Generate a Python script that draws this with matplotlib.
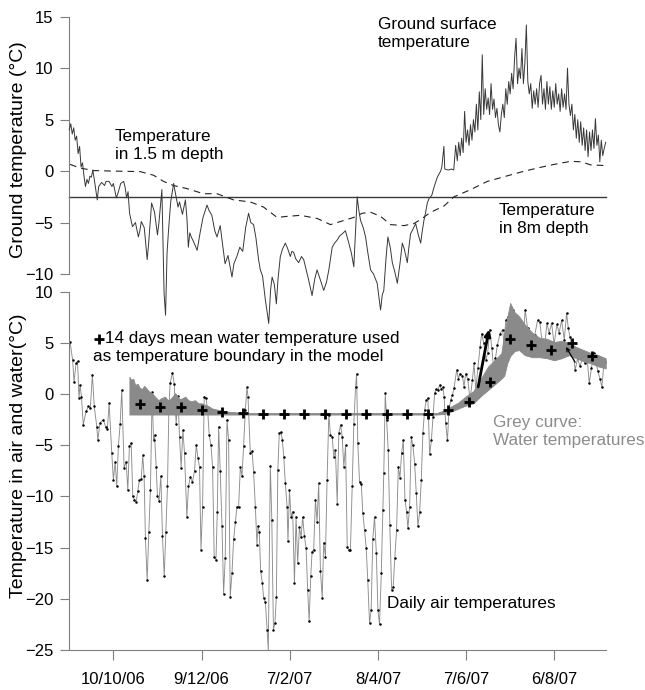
import numpy as np
import matplotlib
matplotlib.use('Agg')
import matplotlib.pyplot as plt
import matplotlib.dates as mdates
from datetime import datetime

plt.rcParams['font.family'] = ['Liberation Sans', 'DejaVu Sans']

START = datetime(2006, 9, 10)
END = datetime(2007, 9, 10)

tick_dates = [datetime(2006, 10, 10), datetime(2006, 12, 9), datetime(2007, 2, 7),
              datetime(2007, 4, 8), datetime(2007, 6, 7), datetime(2007, 8, 6)]
tick_labels = ['10/10/06', '9/12/06', '7/2/07', '8/4/07', '7/6/07', '6/8/07']

# (days since 10 Sep 2006, degC)
ground_surface = [
    (0, 4.0), (1, 4.6), (2, 3.6), (3, 4.2), (4, 3.0), (5, 3.4), (6, 1.7), (7, 2.4), (8, 0.4), (9, 0.8),
    (10, -0.5), (11, -1.5), (12, -0.8), (13, -1.2), (14, -0.5), (15, -0.6), (16, 0.1), (17, -0.8),
    (19, -2.8), (20, -1.5), (22, -1.1), (24, -1.4), (25, -1.0), (27, -1.0), (29, -1.5), (30, -1.2),
    (32, -2.6), (33, -2.2), (35, -1.2), (37, -1.0), (38, -1.6), (39, -2.6), (40, -2.0), (41, -4.1),
    (43, -5.4), (45, -5.0), (47, -6.4), (48, -5.8), (49, -4.9), (51, -5.5), (53, -8.6), (54, -7.0),
    (56, -3.1), (58, -4.0), (60, -6.2), (61, -5.0), (63, -1.8), (64.5, -11.9), (65.5, -14.0),
    (66.5, -8.0), (67.5, -5.8), (69, -3.0), (71, -1.2), (72, -2.0), (74, -3.5), (75, -3.0), (77, -4.2),
    (79, -2.8), (80, -4.5), (81, -7.4), (82, -6.0), (83, -6.4), (85, -7.0), (87, -7.7), (89, -6.0),
    (91, -4.5), (93.7, -3.3), (95, -3.8), (97, -4.3), (99, -5.8), (100.5, -6.4), (102.7, -5.3),
    (104, -6.8), (106, -9.0), (108, -8.2), (110.7, -10.3), (112, -9.0), (114, -8.3), (116, -7.4),
    (118, -7.8), (120, -5.5), (122, -4.1), (123.5, -5.0), (125.4, -5.2), (127, -6.5), (128.8, -8.6),
    (130, -9.6), (131.5, -10.2), (133.4, -12.5), (135.7, -14.8), (137, -11.5), (138, -10.3),
    (139.5, -11.0), (140.9, -12.9), (142, -10.5), (143.6, -8.3), (145, -7.6), (147, -7.0),
    (148.5, -7.5), (150.4, -8.3), (151.5, -7.8), (152.7, -7.9), (154, -8.5), (156.1, -8.9),
    (158, -8.3), (159.5, -8.6), (161, -9.5), (162.9, -10.6), (165.2, -12.1), (167, -10.5),
    (168.6, -9.6), (170, -10.2), (170.9, -10.6), (173.1, -11.6), (175, -10.8), (176.6, -9.6),
    (178.9, -7.4), (180.5, -7.0), (182.3, -6.7), (184, -6.3), (185.7, -6.1), (187.9, -5.8),
    (190.2, -7.0), (192, -8.0), (193.6, -9.3), (195.9, -2.5), (197, -3.8), (198.2, -4.8),
    (200, -5.5), (201.6, -6.4), (203, -7.8), (205, -9.6), (207, -10.0), (209.5, -10.9),
    (211.8, -13.5), (213, -12.0), (214, -11.6), (215.5, -8.5), (216.8, -6.4), (218.5, -7.5),
    (219.8, -8.9), (221.5, -9.8), (223.2, -10.9), (225, -9.0), (226.6, -7.0), (228, -7.6),
    (230, -8.9), (231, -7.5), (232.2, -6.1), (234, -5.6), (235.7, -5.1), (237.5, -6.2),
    (239.1, -7.0), (240, -6.0), (241.3, -4.8), (242.5, -4.0), (243.6, -3.1), (245, -2.6),
    (245.9, -2.5), (246.8, -2.3), (247.7, -1.8), (249, -1.2), (250.4, -0.6), (251.5, -0.3),
    (252.7, 0.0), (253.5, 0.4), (254.9, 2.4), (255.5, 0.2), (258, 0.1), (260, 0.2), (261.6, 0.1),
    (262.9, 2.5), (264, 1.0), (265, 2.8), (266, 1.5), (267, 3.2), (268, 1.8), (269, 5.8), (270, 2.8),
    (271, 4.0), (272, 2.5), (273, 4.5), (274, 3.0), (275, 5.0), (276, 3.8), (277, 6.5), (278, 4.0),
    (279, 7.7), (280, 5.0), (281, 11.3), (282, 5.5), (283, 8.0), (284, 6.0), (285, 7.1), (286, 5.5),
    (287, 8.5), (288, 6.0), (289, 7.0), (290, 5.2), (291, 6.1), (292, 4.5), (293, 3.8), (294, 5.5),
    (295, 6.5), (296, 5.2), (297, 8.0), (298, 6.5), (299, 8.7), (300, 7.5), (301, 9.5), (302, 8.0),
    (303, 11.0), (304, 12.9), (305, 8.5), (306, 10.0), (307, 9.0), (308, 11.9), (309, 8.5),
    (310, 10.5), (311, 14.2), (312, 8.7), (313, 7.5), (314, 8.5), (315, 6.1), (316, 7.8), (317, 6.5),
    (318, 8.0), (319, 6.2), (320, 8.5), (321, 9.3), (322, 6.5), (323, 8.0), (324, 6.0), (325, 8.7),
    (326, 6.5), (327, 8.2), (328, 6.0), (329, 7.8), (330, 6.2), (331, 8.5), (332, 6.5), (333, 7.5),
    (334, 5.8), (335, 8.0), (336, 6.2), (337, 7.5), (338, 6.0), (339, 10.0), (340, 6.5), (341, 5.4),
    (342, 6.5), (343, 4.0), (344, 5.5), (345, 3.2), (346, 5.0), (347, 2.8), (348, 4.8), (349, 2.5),
    (350, 4.2), (351, 2.0), (352, 4.0), (353, 1.4), (354, 3.8), (355, 2.0), (356, 4.0), (357, 2.2),
    (358, 5.1), (359, 2.5), (360, 3.5), (361, 0.9), (362, 3.0), (363, 1.5), (364, 2.2), (365, 2.8),
]

depth_1_5m = [
    (0.5, 0.65), (7.3, 0.3), (16.4, 0.05), (30, 0.0), (48.2, -0.05), (57.3, -0.4), (64.1, -1.0),
    (70.9, -1.4), (80, -1.7), (91.3, -2.2), (100.5, -2.2), (111.8, -2.8), (123.2, -3.0),
    (132.2, -3.5), (141.4, -4.5), (148.2, -4.4), (157.3, -4.3), (168.6, -4.6), (177.7, -5.2),
    (186.8, -4.8), (193.6, -4.5), (199.3, -4.1), (205, -4.0), (211.8, -4.4), (218.6, -5.2),
    (227.7, -5.3), (234.5, -5.1), (239.1, -4.7), (245.9, -4.0), (254.9, -3.4), (261.8, -2.5),
    (273.1, -1.8), (284.5, -1.0), (295.8, -0.55), (307.2, -0.1), (318.6, 0.3), (329.9, 0.65),
    (341.3, 0.95), (348.1, 0.9), (354.9, 0.6), (362.9, 0.55), (365, 0.55),
]

depth_8m = [(0, -2.5), (120, -2.5), (240, -2.5), (365, -2.5)]

air_temp = [
    (0.5, 5.1), (2.3, 3.3), (3.2, 1.2), (4.6, 3.0), (5.6, 3.2), (6.6, -0.4), (7.3, 0.9), (8.3, -0.3),
    (9.5, -3.0), (11.4, -1.7), (13.0, -1.2), (14.3, -1.4), (15.7, 1.9), (17.0, -1.2), (18.7, -3.2),
    (19.4, -4.5), (20.9, -2.8), (23.2, -2.5), (24.7, -3.2), (25.9, -3.4), (27.1, -0.9), (28.9, -5.8),
    (30.0, -8.4), (31.2, -6.6), (32.3, -9.0), (33.4, -5.1), (34.6, -2.9), (35.7, 0.4), (37.3, -7.2),
    (38.7, -6.6), (39.8, -9.4), (40.9, -5.1), (42.1, -4.8), (43.2, -10.0), (44.3, -10.3),
    (45.5, -10.5), (46.6, -9.5), (47.7, -8.4), (48.9, -8.3), (50.0, -6.0), (50.9, -8.0),
    (51.8, -14.1), (53.0, -18.2), (54.1, -13.5), (55.2, -9.4), (56.4, 0.2), (57.3, -4.5),
    (58.0, -4.0), (59.1, -7.1), (60.0, -10.0), (61.1, -10.4), (62.3, -8.0), (63.4, -13.9),
    (64.6, -17.8), (65.7, -13.5), (66.8, -9.0), (67.8, -1.2), (68.6, 1.05), (70.2, 2.1), (71.4, 1.0),
    (72.7, -2.9), (73.9, -0.2), (75.0, -4.2), (76.1, -7.2), (77.3, -3.5), (78.4, -5.8), (80.0, -12.0),
    (81.1, -9.0), (82.3, -8.1), (83.8, -8.6), (85.2, -7.5), (86.4, -5.0), (87.5, -6.2), (88.6, -7.1),
    (89.6, -15.2), (90.7, -11.0), (91.8, -0.25), (93.0, -0.4), (94.1, -1.5), (95.2, -4.0),
    (96.4, -5.0), (97.5, -7.1), (98.6, -15.9), (99.8, -16.2), (100.7, -11.5), (101.6, -3.2),
    (102.7, -7.5), (103.9, -12.9), (105.0, -19.5), (106.1, -16.0), (107.3, -2.5), (108.4, -4.5),
    (109.5, -19.8), (110.7, -17.5), (111.8, -14.2), (113.0, -12.5), (114.1, -11.0), (115.2, -11.0),
    (116.4, -7.1), (117.5, -8.0), (118.6, -5.1), (119.8, -1.6), (120.9, 0.7), (121.6, -0.25),
    (123.2, -5.8), (124.4, -5.6), (125.4, -7.6), (126.6, -11.0), (127.7, -14.7), (128.4, -12.9),
    (129.3, -13.5), (130.2, -17.3), (131.4, -18.5), (132.2, -19.9), (133.4, -20.3), (134.6, -23.0),
    (135.4, -25.1), (136.8, -7.0), (137.8, -12.3), (138.9, -23.0), (139.9, -22.4), (140.9, -19.8),
    (141.9, -7.4), (142.9, -3.8), (144.0, -3.7), (145.0, -4.5), (145.9, -6.1), (147.0, -8.7),
    (148.2, -11.0), (148.8, -14.4), (149.8, -9.4), (150.9, -12.0), (152.0, -11.5), (153.2, -18.5),
    (154.3, -12.0), (155.4, -16.5), (156.6, -13.0), (157.7, -14.0), (158.8, -12.0), (160.0, -13.9),
    (161.1, -15.0), (162.2, -19.1), (163.2, -22.2), (164.3, -17.8), (165.2, -15.4), (166.3, -15.2),
    (167.5, -10.3), (168.6, -12.5), (169.7, -8.7), (170.9, -17.3), (172.1, -19.9), (173.1, -14.5),
    (174.3, -15.9), (175.4, -8.4), (176.6, -2.0), (177.7, -4.0), (178.9, -4.2), (180.0, -6.1),
    (181.1, -5.5), (182.3, -10.7), (183.4, -3.8), (184.6, -3.0), (185.7, -4.2), (186.8, -7.1),
    (188.0, -5.0), (189.1, -14.9), (190.2, -15.2), (191.3, -15.2), (192.5, -9.0), (193.6, -2.9),
    (194.8, 0.7), (195.5, 2.0), (196.3, -4.8), (197.5, -8.6), (198.7, -8.8), (199.7, -11.6),
    (200.9, -13.3), (202.0, -15.0), (203.1, -18.2), (204.3, -22.4), (205.4, -21.1), (206.5, -14.2),
    (207.7, -12.0), (208.9, -15.5), (210.0, -21.1), (211.1, -22.5), (212.3, -17.5), (213.4, -11.3),
    (214.0, -7.7), (215.0, 0.1), (215.9, -2.5), (217.0, -5.5), (218.1, -12.8), (219.3, -19.1),
    (220.4, -18.8), (221.5, -16.0), (222.7, -13.3), (223.9, -7.1), (225.0, -8.2), (226.1, -5.8),
    (227.3, -4.5), (228.4, -10.3), (229.5, -11.5), (230.4, -13.1), (231.6, -11.0), (232.7, -4.2),
    (233.8, -5.0), (235.0, -6.8), (236.1, -9.7), (237.2, -12.9), (238.4, -11.5), (239.5, -8.4),
    (240.6, -3.8), (241.8, -1.55), (242.9, -0.6), (244.0, -0.4), (245.2, -5.9), (246.4, -4.5),
    (247.5, -2.2), (248.6, 0.1), (249.8, 0.5), (250.9, 0.4), (252.0, 0.9), (253.2, 0.5), (254.3, 0.7),
    (255.0, -0.25), (256.1, -2.85), (257.3, -4.5), (258.4, -1.55), (259.5, -0.6), (260.7, -0.1),
    (261.8, 0.6), (263.6, 2.35), (264.8, 1.5), (265.9, 2.0), (267.5, 1.8), (268.6, 0.7), (269.7, 2.0),
    (271.1, 1.5), (272.7, -0.6), (274.3, 1.4), (275.4, 3.0), (276.6, 0.4), (278.0, 2.5), (279.5, 4.6),
    (280.6, 5.9), (282.0, 5.0), (283.4, 3.3), (284.7, 4.0), (286.1, 6.3), (287.5, 4.5), (288.6, 2.7),
    (290.0, 3.5), (291.3, 4.8), (293.1, 5.9), (294.8, 6.3), (295.8, 5.0), (297.0, 7.2), (298.6, 7.5),
    (300.4, 5.8), (302.2, 8.2), (303.8, 7.0), (305.4, 5.9), (307.2, 6.8), (308.8, 5.3), (310.2, 8.2),
    (311.8, 6.5), (313.6, 5.2), (315.2, 5.0), (316.8, 5.8), (318.6, 7.2), (320.2, 7.0), (321.8, 5.0),
    (323.1, 4.2), (325.0, 6.9), (326.5, 6.0), (328.2, 6.9), (329.9, 4.9), (331.8, 6.8), (333.3, 6.0),
    (335.0, 7.2), (336.8, 5.3), (338.4, 7.9), (339.5, 6.5), (340.6, 5.6), (341.8, 4.8), (343.1, 3.8),
    (344.2, 2.35), (345.9, 3.5), (347.4, 2.7), (349.3, 3.5), (350.8, 3.0), (352.2, 3.8), (353.8, 1.05),
    (355.3, 2.5), (356.8, 4.0), (358.2, 3.5), (359.5, 2.3), (361.1, 1.5), (362.4, 0.7), (363.6, 2.7),
    (364.7, 3.1),
]

# water temperature envelope: (day, low, high)
water_band = [
    (40.9, -2.0, 1.7), (42, -2.0, 1.4), (43.5, -2.0, 1.5), (44.8, -2.0, 0.9), (46.5, -2.0, 1.0),
    (48, -2.0, 0.6), (49.4, -2.0, 0.5), (51, -2.0, 0.8), (52.3, -2.0, 0.6), (54, -2.0, 0.3),
    (56.2, -2.0, 0.1), (58, -2.0, -0.2), (60.7, -2.0, -0.6), (62.5, -2.0, -0.4), (65.2, -2.0, -0.25),
    (67, -2.0, -0.6), (68.6, -2.0, -0.5), (70.5, -2.0, -0.2), (72, -2.0, 0.1), (74, -2.0, -0.3),
    (75.4, -2.0, -0.5), (77, -2.0, -0.4), (78.9, -2.0, -0.25), (81, -2.0, -0.6), (83, -2.0, -0.7),
    (85.5, -2.0, -0.6), (87.9, -2.0, -0.9), (90, -2.0, -0.9), (92.5, -2.0, -1.05), (95, -2.0, -1.2),
    (97.1, -2.0, -1.4), (100, -2.0, -1.5), (103.9, -2.0, -1.6), (107, -2.0, -1.7), (110.7, -2.0, -1.75),
    (119.8, -2.0, -1.85), (250, -2.0, -1.85), (255, -1.95, -1.6), (260, -1.7, -1.2), (265, -1.4, -0.8),
    (270, -1.1, -0.2), (275, -0.9, 0.3), (280, -0.2, 1.5), (285, 0.4, 2.7), (290, 1.0, 3.4),
    (294, 1.5, 4.0), (296, 1.8, 6.0), (298, 3.0, 7.5), (300, 3.7, 8.9), (303, 4.2, 8.0),
    (306, 4.3, 7.6), (310, 3.8, 6.8), (315, 3.6, 6.0), (320, 3.6, 5.5), (325, 3.5, 5.4),
    (330, 3.3, 5.1), (335, 3.5, 5.2), (340, 3.8, 5.0), (345, 3.5, 4.6), (350, 3.2, 4.3),
    (355, 3.0, 4.0), (360, 2.7, 3.8), (365, 2.5, 3.5),
]

mean14_days = [48, 62, 76, 90, 104, 118, 132, 146, 160, 174, 188, 202, 216, 230, 244,
               258, 272, 286, 300, 314, 328, 342, 356]
mean14_vals = [-1.0, -1.3, -1.3, -1.55, -1.8, -1.85, -1.95, -1.95, -1.95, -1.95, -1.95, -1.95,
               -1.95, -1.95, -1.9, -1.6, -0.74, 1.2, 5.35, 4.8, 4.3, 5.0, 3.7]

BASE = mdates.date2num(START)


def xd(days):
    return BASE + np.asarray(days, dtype=float)


def split(pairs):
    a = np.array(pairs, dtype=float)
    return [a[:, i] for i in range(a.shape[1])]


W, H = 645, 690
fig = plt.figure(figsize=(W / 100, H / 100), dpi=100)


def fx(px):
    return px / W


def fy(py):
    return 1 - py / H


ax1 = fig.add_axes([fx(69.3), fy(274), fx(605.7) - fx(69.3), fy(16.7) - fy(274)])
ax2 = fig.add_axes([fx(69.3), fy(650), fx(605.7) - fx(69.3), fy(291.7) - fy(650)])
ax1.set_zorder(3)
for ax in (ax1, ax2):
    ax.patch.set_visible(False)
    ax.set_xlim(mdates.date2num(START), mdates.date2num(END))
    for s in ('top', 'right'):
        ax.spines[s].set_visible(False)
    ax.spines['left'].set_color('#7f7f7f')
    ax.spines['left'].set_linewidth(0.8)
    ax.tick_params(axis='y', direction='out', length=6.5, width=0.8, color='#7f7f7f',
                   labelsize=12, pad=5)

ax1.spines['bottom'].set_visible(False)
ax1.set_xticks([])
ax1.set_ylim(-10, 15)
ax1.set_yticks([-10, -5, 0, 5, 10, 15])

ax2.spines['bottom'].set_color('#7f7f7f')
ax2.spines['bottom'].set_linewidth(0.8)
ax2.set_ylim(-25, 10)
ax2.set_yticks([-25, -20, -15, -10, -5, 0, 5, 10])
ax2.set_xticks([mdates.date2num(d) for d in tick_dates])
ax2.set_xticklabels(tick_labels)
ax2.tick_params(axis='x', direction='out', length=7, width=0.8, color='#7f7f7f',
                labelsize=12, pad=9)

# top panel
d, v = split(depth_8m)
ax1.plot(xd(d), v, color='#3a3a3a', lw=1.0, clip_on=False, zorder=2)
d, v = split(depth_1_5m)
ax1.plot(xd(d), v, color='#222222', lw=0.8, dashes=(6, 4.5), clip_on=False, zorder=3)
d, v = split(ground_surface)
ax1.plot(xd(d), v, color='#383838', lw=0.7, clip_on=False, zorder=4)

# bottom panel
d, v = split(air_temp)
ax2.plot(xd(d), v, color='#8c8c8c', lw=0.65, marker='.', ms=1.6, mfc='black', mec='black',
         zorder=2)
d, lo, hi = split(water_band)
ax2.fill_between(xd(d), lo, hi, color='#8a8a8a', lw=0.6, edgecolor='#8a8a8a', zorder=3)
ax2.plot(xd(mean14_days), mean14_vals, linestyle='none', marker='+', ms=7, mew=2.0,
         color='black', zorder=5)

ax2.annotate('', xy=(xd(285.6), 6.3), xytext=(xd(278.2), 0.7),
             arrowprops=dict(arrowstyle='-|>', lw=2.0, color='black', mutation_scale=9,
                             shrinkA=0, shrinkB=0), zorder=6)
ax2.annotate('', xy=(xd(338.0), 4.6), xytext=(xd(344.2), 3.1),
             arrowprops=dict(arrowstyle='->', lw=0.9, color='black', mutation_scale=6,
                             shrinkA=0, shrinkB=0), zorder=6)

# texts
fs = 12.3
fig.text(fx(378), fy(17), 'Ground surface\ntemperature', fontsize=fs, va='top', ha='left',
         linespacing=1.25)
fig.text(fx(115), fy(129), 'Temperature\nin 1.5 m depth', fontsize=fs, va='top', ha='left',
         linespacing=1.25)
fig.text(fx(499), fy(203), 'Temperature\nin 8m depth', fontsize=fs, va='top', ha='left',
         linespacing=1.25)
fig.add_artist(plt.Line2D([fx(99)], [fy(339)], marker='+', ms=7, mew=2.0, color='black',
                          transform=fig.transFigure))
fig.text(fx(105), fy(331), '14 days mean water temperature used', fontsize=fs, va='top', ha='left')
fig.text(fx(93), fy(349), 'as temperature boundary in the model', fontsize=fs, va='top', ha='left')
fig.text(fx(493), fy(415), 'Grey curve:\nWater temperatures', fontsize=fs, va='top', ha='left',
         color='#8c8c8c', linespacing=1.25)
fig.text(fx(387), fy(596), 'Daily air temperatures', fontsize=fs, va='top', ha='left')

fig.text(fx(19), fy(150), 'Ground temperature (°C)', rotation=90, fontsize=14,
         ha='center', va='center')
fig.text(fx(19), fy(456), 'Temperature in air and water(°C)', rotation=90, fontsize=14,
         ha='center', va='center')

fig.savefig('out.png', dpi=100)
